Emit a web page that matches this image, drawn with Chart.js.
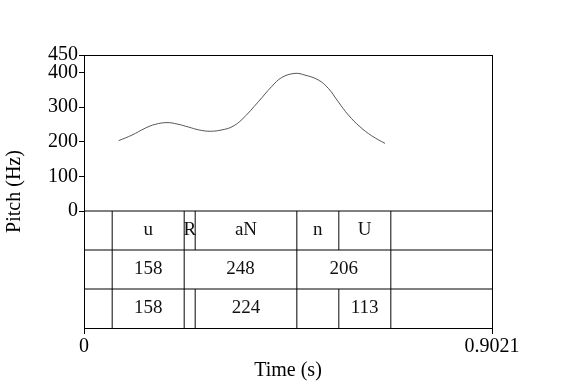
<!DOCTYPE html>
<html><head><meta charset="utf-8">
<script src="https://cdn.jsdelivr.net/npm/chart.js@4/dist/chart.umd.min.js"></script>
<style>html,body{margin:0;padding:0;background:#fff}#c{display:block}</style>
</head><body>
<canvas id="c" width="576" height="384"></canvas>
<script>
// Pitch contour (time s, pitch Hz)
const pitchTimes = [0.0767,0.1061,0.1355,0.1576,0.1835,0.2056,0.2315,0.2536,0.2792,0.3051,0.3272,0.3493,0.3854,0.4150,0.4371,0.4665,0.4886,0.5180,0.5401,0.5622,0.5844,0.6102,0.6361,0.6655];
const pitchValues = [203,219,239,250,255,251,242,234,230,234,243,264,315,359,385,397,392,378,354,315,277,243,217,195];
// Tiers
const tier1Bounds = [0.0626,0.2218,0.2461,0.4703,0.5631,0.6781];
const tier1Labels = ["u","R","aN","n","U"];
const tier2Bounds = [0.0626,0.2218,0.4703,0.6781];
const tier2Labels = ["158","248","206"];
const tier3Bounds = [0.0626,0.2218,0.2461,0.4703,0.5631,0.6781];
const tier3Labels = ["158","","224","","113"];
const yTicks = [0,100,200,300,400,450];
const xTicks = [0,0.9021];
const xTickLabels = ["0","0.9021"];
const tMax = 0.9021;
const tierEdges = [0,-112.5,-225,-337.5];

const FONT = "'Liberation Serif','Times New Roman',serif";
const tiers = [[tier1Bounds,tier1Labels],[tier2Bounds,tier2Labels],[tier3Bounds,tier3Labels]];

const lineDS = (data, color) => ({type:'line', data, borderColor:color, borderWidth:1, pointRadius:0, fill:false, spanGaps:false, clip:false, tension:0});
const datasets = [];
datasets.push(Object.assign(lineDS(pitchTimes.map((t,i)=>({x:t,y:pitchValues[i]})), '#555'), {tension:0.4}));
// horizontal tier separators
const hpts = [];
tierEdges.slice(0,3).forEach(v=>{hpts.push({x:0,y:v},{x:tMax,y:v},{x:tMax,y:null});});
datasets.push(lineDS(hpts,'#000'));
// vertical boundaries
tiers.forEach(([b],k)=>{
  const pts=[];
  b.forEach(t=>{pts.push({x:t,y:tierEdges[k]},{x:t,y:tierEdges[k+1]},{x:t,y:null});});
  datasets.push(lineDS(pts,'#555'));
});

const boxPlugin = {
  id:'box',
  afterDatasetsDraw(chart){
    const {ctx, chartArea:a, scales:{x,y}} = chart;
    ctx.save();
    ctx.strokeStyle='#000'; ctx.lineWidth=1;
    ctx.strokeRect(Math.round(a.left)+0.5, Math.round(a.top)+0.5, Math.round(a.right-a.left), Math.round(a.bottom-a.top));
    ctx.fillStyle='#111';
    ctx.font = '19px ' + FONT;
    ctx.textAlign='center'; ctx.textBaseline='middle';
    tiers.forEach(([b,l],k)=>{
      const ym = y.getPixelForValue((tierEdges[k]+tierEdges[k+1])/2);
      l.forEach((s,i)=>{ if(s) ctx.fillText(s, x.getPixelForValue((b[i]+b[i+1])/2), ym); });
    });
    ctx.restore();
  }
};

new Chart(document.getElementById('c'), {
  type:'line',
  data:{datasets},
  options:{
    responsive:false, animation:false, events:[],
    layout:{padding:{left:0,top:55,right:84,bottom:0}},
    plugins:{legend:{display:false}, tooltip:{enabled:false}},
    scales:{
      x:{type:'linear', min:0, max:tMax,
        afterBuildTicks(s){ s.ticks = xTicks.map(v=>({value:v})); },
        afterFit(s){ s.height = 56; },
        ticks:{color:'#000', font:{family:FONT,size:20}, padding:1, maxRotation:0, autoSkip:false,
          callback:(v,i)=>xTickLabels[i]},
        grid:{display:true, drawOnChartArea:false, drawTicks:true, tickLength:6, color:'#000'},
        border:{display:true,color:'#000'},
        title:{display:true, text:'Time (s)', color:'#000', font:{family:FONT,size:20}, padding:{top:0,bottom:1}}
      },
      y:{type:'linear', min:-337.5, max:450,
        afterBuildTicks(s){ s.ticks = yTicks.map(v=>({value:v})); },
        afterFit(s){ s.width = 84; },
        ticks:{color:'#000', font:{family:FONT,size:20}, padding:1, autoSkip:false},
        grid:{display:true, drawOnChartArea:false, drawTicks:true, tickLength:5, color:'#000'},
        border:{display:true,color:'#000'},
        title:{display:true, text:'Pitch (Hz)', color:'#000', font:{family:FONT,size:20}, padding:{top:3,bottom:0}}
      }
    }
  },
  plugins:[boxPlugin]
});
</script>
</body></html>
